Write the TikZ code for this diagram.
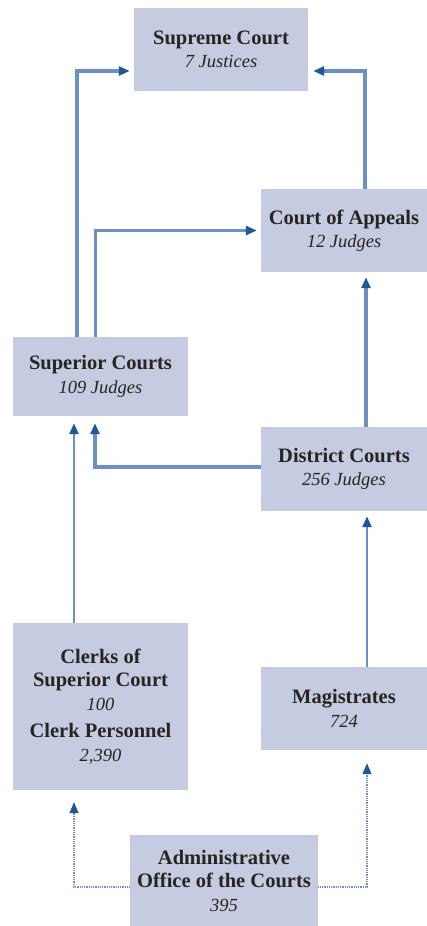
\documentclass[tikz,border=0pt]{standalone}
\usepackage{fontspec}
\setmainfont{Liberation Serif}
\usetikzlibrary{arrows.meta}
\definecolor{boxfill}{RGB}{197,203,224}
\definecolor{linec}{RGB}{108,144,196}
\definecolor{arrc}{RGB}{30,88,150}
\definecolor{txt}{RGB}{40,36,32}
\newcommand{\sub}[1]{{\fontsize{18.5}{23.5}\selectfont\mdseries\itshape #1}}
\tikzset{
  court/.style={fill=boxfill, draw=none, inner sep=0pt, align=center, text=txt,
    font=\fontsize{20.5}{23.5}\selectfont\bfseries},
  tip/.style={-{Triangle[length=11pt,width=9pt,color=arrc]}},
  conn/.style={tip, draw=linec, line width=#1},
  dotconn/.style={tip, draw=linec, line width=1.3pt, dash pattern=on 1pt off 0.8pt},
}
\begin{document}
\begin{tikzpicture}[x=1pt,y=-1pt]
\useasboundingbox (0,0) rectangle (427,926);
\node[court, minimum width=174pt, minimum height=83pt] (supreme) at (221,49.5)
  {Supreme Court\\ \sub{7 Justices}};
\node[court, minimum width=166pt, minimum height=83pt] (coa) at (344,230.5)
  {Court of Appeals\\ \sub{12 Judges}};
\node[court, minimum width=175pt, minimum height=79pt] (superior) at (100.5,376.5)
  {Superior Courts\\ \sub{109 Judges}};
\node[court, minimum width=166pt, minimum height=84pt] (district) at (344,469)
  {District Courts\\ \sub{256 Judges}};
\node[court, minimum width=175pt, minimum height=167pt] (clerks) at (100.5,706.5)
  {Clerks of\\ Superior Court\\ \sub{100}\\[4pt] Clerk Personnel\\ \sub{2,390}};
\node[court, minimum width=166pt, minimum height=83pt] (mag) at (344,708.5)
  {Magistrates\\ \sub{724}};
\node[court, minimum width=188pt, minimum height=91pt] (admin) at (224,880.5)
  {Administrative\\ Office of the Courts\\ \sub{395}};

% solid connectors
\draw[conn=4.2pt, shorten >=4pt] ([xshift=-23.5pt]superior.north) |- ([yshift=-21.5pt]supreme.west);
\draw[conn=3pt, shorten >=4pt] ([xshift=-5.5pt]superior.north) |- (coa.west);
\draw[conn=4.5pt, shorten >=5pt] ([xshift=21pt]coa.north) |- ([yshift=-21.5pt]supreme.east);
\draw[conn=4pt, shorten >=5pt] ([xshift=22pt]district.north) -- ([xshift=22pt]coa.south);
\draw[conn=3.5pt, shorten >=7pt] ([yshift=2pt]district.west) -| ([xshift=-5.5pt]superior.south);
\draw[conn=2.6pt, shorten >=7pt] ([xshift=-26.5pt]clerks.north) -- ([xshift=-26.5pt]superior.south);
\draw[conn=2.6pt, shorten >=5pt] ([xshift=23pt]mag.north) -- ([xshift=23pt]district.south);
% dotted connectors
\draw[dotconn, shorten >=12pt] ([yshift=-6.5pt]admin.west) -| ([xshift=-26.5pt]clerks.south);
\draw[dotconn, shorten >=13pt] ([yshift=-6.5pt]admin.east) -| ([xshift=23pt]mag.south);
\end{tikzpicture}
\end{document}
